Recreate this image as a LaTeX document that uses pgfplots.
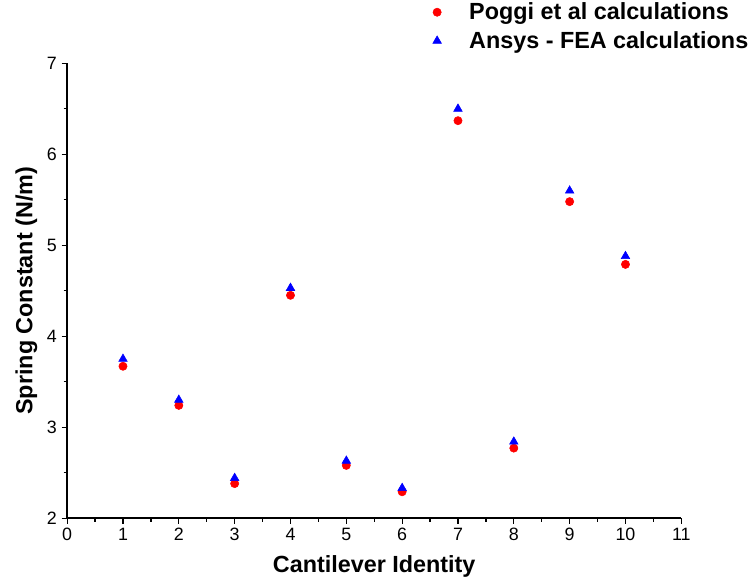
\documentclass[border=0pt]{standalone}
\usepackage{pgfplots}
\pgfplotsset{compat=1.18}
\usepackage{fontspec}
\setmainfont{Liberation Sans}
\begin{document}
\begin{tikzpicture}
\begin{axis}[
  scale only axis,
  width=447pt, height=331pt,
  xmin=0, xmax=11, ymin=2, ymax=7,
  xtick={0,1,...,11}, ytick={2,3,...,7},
  minor xtick={0.5,1.5,...,10.5}, minor ytick={2.5,3.5,...,6.5},
  axis lines*=left,
  axis line style={line width=1.2pt, -},
  tick align=outside,
  major tick length=4pt, minor tick length=2.5pt,
  every tick/.style={black, line width=0.9pt},
  tick label style={font=\fontsize{13}{15}\selectfont},
  /pgf/number format/assume math mode=true,
  xlabel={\textbf{Cantilever Identity}},
  ylabel={\textbf{Spring Constant (N/m)}},
  label style={font=\fontsize{17}{19}\selectfont},
  xlabel style={yshift=-4pt},
  legend style={draw=none, fill=none, inner sep=0pt, at={(0.595,1.14)}, anchor=north west,
    font=\fontsize{17}{19}\selectfont\bfseries, row sep=3pt},
  legend image code/.code={\path[draw=none,fill=none] (-0.1cm,0cm) -- (0.75cm,0cm);\draw[#1] plot coordinates {(0cm,0cm)};},
  legend cell align=left,
  clip=false,
]
\addplot[only marks, mark=*, mark size=3pt, color=red, mark options={draw=red, fill=red}] coordinates
{(1,3.67)(2,3.24)(3,2.38)(4,4.45)(5,2.58)(6,2.29)(7,6.37)(8,2.77)(9,5.48)(10,4.79)};
\addplot[only marks, mark=triangle*, mark size=3.6pt, color=blue, mark options={draw=blue, fill=blue}] coordinates
{(1,3.75)(2,3.30)(3,2.44)(4,4.53)(5,2.63)(6,2.33)(7,6.50)(8,2.84)(9,5.60)(10,4.88)};
\legend{Poggi et al calculations, Ansys - FEA calculations}
\end{axis}
\path (current bounding box.west) ++(-8pt,0) coordinate (padl);
\path (padl);
\end{tikzpicture}
\end{document}
